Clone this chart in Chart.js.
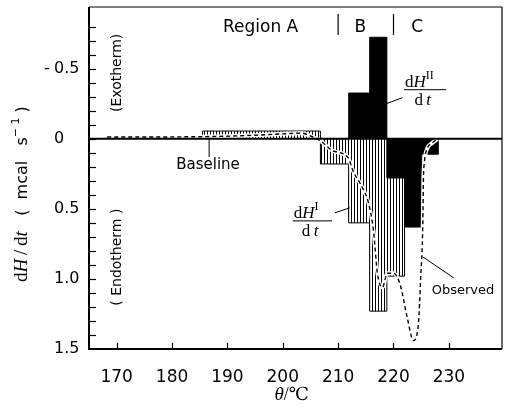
<!DOCTYPE html>
<html>
<head>
<meta charset="utf-8">
<script src="https://cdn.jsdelivr.net/npm/chart.js@4.4.0/dist/chart.umd.min.js"></script>
<style>
  html, body { margin: 0; padding: 0; background: #fff; }
  #wrap { width: 508px; height: 408px; }
</style>
</head>
<body>
<div id="wrap"><canvas id="chart"></canvas></div>
<script>
// bin edges (deg C) and heights (mcal/s, positive = endotherm, drawn downwards)
const binEdgesI  = [168.3, 185.5, 206.8, 211.9, 215.7, 218.8, 222.0];
const dHI        = [-0.015, -0.055, 0.18, 0.60, 1.23, 0.98];
const binEdgesII = [211.9, 215.7, 218.8, 222.0, 225.1, 228.1];
const dHII       = [-0.326, -0.724, 0.28, 0.63, 0.11];

// observed DSC trace
const obsT = [168.3, 185.5, 195.0, 200.0, 203.5, 205.0, 206.8, 209.0, 211.8, 212.7, 214.4, 215.5,
              216.4, 217.1, 218.0, 218.9, 220.0, 221.2, 222.5, 223.6, 224.5, 224.9, 225.3, 225.4,
              225.6, 226.1, 227.0, 228.0];
const obsV = [-0.012, -0.015, -0.025, -0.035, -0.04, -0.02, 0.015, 0.085, 0.135, 0.23, 0.35, 0.46,
              0.66, 0.96, 1.06, 0.96, 0.96, 1.04, 1.28, 1.44, 1.32, 1.0, 0.6, 0.3,
              0.16, 0.07, 0.03, 0.0];

const xTicks  = [170, 180, 190, 200, 210, 220, 230];
const yTicks  = [-0.5, 0, 0.5, 1.0, 1.5];
const yLabels = ['-0.5', '0', '0.5', '1.0', '1.5'];

const SANS = '"DejaVu Sans", sans-serif';
const SERIF = '"Liberation Serif", "DejaVu Serif", serif';

function histo(edges, vals) {
    const pts = [{ x: edges[0], y: 0 }];
    vals.forEach((v, i) => pts.push({ x: edges[i], y: v }));
    pts.push({ x: edges[edges.length - 1], y: 0 });
    return pts;
}

function hatch() {
    const c = document.createElement('canvas');
    c.width = 3; c.height = 4;
    const g = c.getContext('2d');
    g.fillStyle = '#fff'; g.fillRect(0, 0, 3, 4);
    g.fillStyle = '#000'; g.fillRect(0, 0, 1, 4);
    return g.createPattern(c, 'repeat');
}

const obsPts = obsT.map((t, i) => ({ x: t, y: obsV[i] }));

function line(ctx, x1, y1, x2, y2) {
    ctx.beginPath(); ctx.moveTo(x1, y1); ctx.lineTo(x2, y2); ctx.stroke();
}

// draw a run of text pieces with their own fonts, left to right from (0,0)
function rich(ctx, parts) {
    let cx = 0;
    parts.forEach(p => {
        ctx.font = p.f;
        ctx.fillText(p.t, cx, p.dy || 0);
        cx += ctx.measureText(p.t).width;
    });
    return cx;
}

function frac(ctx, left, right, ly, sup) {
    ctx.textAlign = 'left';
    ctx.textBaseline = 'alphabetic';
    ctx.save();
    ctx.translate(left + 1, ly - 3);
    rich(ctx, [
        { t: 'd', f: '17px ' + SERIF },
        { t: 'H', f: 'italic 17px ' + SERIF },
        { t: sup, f: '12px ' + SERIF, dy: -8 }
    ]);
    ctx.restore();
    ctx.lineWidth = 1;
    line(ctx, left, ly, right, ly);
    ctx.save();
    ctx.font = '17px ' + SERIF;
    const w = ctx.measureText('d').width;
    ctx.font = 'italic 17px ' + SERIF;
    const w2 = ctx.measureText('t').width;
    ctx.translate((left + right) / 2 - 3 - (w + w2 + 2) / 2, ly + 15);
    rich(ctx, [
        { t: 'd', f: '17px ' + SERIF },
        { t: '\u2009t', f: 'italic 17px ' + SERIF }
    ]);
    ctx.restore();
}

const decor = {
    id: 'decor',
    afterDraw(chart) {
        const { ctx, chartArea: a, scales: { x, y } } = chart;
        const X = v => x.getPixelForValue(v);
        const Y = v => y.getPixelForValue(v);
        ctx.save();
        ctx.strokeStyle = '#000';
        ctx.fillStyle = '#000';

        // frame
        ctx.lineWidth = 1.2;
        line(ctx, a.left, a.top, a.right, a.top);
        line(ctx, a.right, a.top, a.right, a.bottom);
        ctx.lineWidth = 2;
        line(ctx, a.left, a.top, a.left, a.bottom + 1);
        line(ctx, a.left - 1, a.bottom, a.right, a.bottom);
        line(ctx, a.left, Y(0), a.right, Y(0));

        // inside ticks
        ctx.lineWidth = 1.2;
        for (let k = -8; k <= 14; k++) {
            const py = Math.round(Y(k / 10)) + 0.5;
            line(ctx, a.left, py, a.left + 7, py);
        }
        xTicks.forEach(v => line(ctx, Math.round(X(v)) + 0.5, a.bottom, Math.round(X(v)) + 0.5, a.bottom - 6));

        // y tick labels
        ctx.font = '16px ' + SANS;
        ctx.textBaseline = 'middle';
        ctx.textAlign = 'left';
        yTicks.forEach((v, i) => {
            let s = yLabels[i];
            if (s[0] === '-') {
                ctx.fillText('-', 44, Y(v));
                s = s.slice(1);
            }
            ctx.fillText(s, 54, Y(v));
        });

        // region marks
        ctx.lineWidth = 1.2;
        [210, 220].forEach(v => line(ctx, X(v), Y(-0.89), X(v), Y(-0.74)));
        ctx.font = '17px ' + SANS;
        ctx.textAlign = 'center';
        ctx.fillText('Region A', X(196), Y(-0.79));
        ctx.fillText('B', X(214), Y(-0.79));
        ctx.fillText('C', X(224.3), Y(-0.79));

        // baseline note
        ctx.lineWidth = 1;
        line(ctx, X(186.7), Y(0), X(186.7), Y(0.13));
        ctx.font = '15px ' + SANS;
        ctx.fillText('Baseline', X(186.5), Y(0.19));

        // observed note
        line(ctx, X(225.3), Y(0.843), X(230.9), Y(0.993));
        ctx.font = '13px ' + SANS;
        ctx.textAlign = 'left';
        ctx.fillText('Observed', X(226.9), Y(1.086));

        // exotherm / endotherm
        ctx.font = '14px ' + SANS;
        ctx.textAlign = 'center';
        [['(Exotherm)', -0.47], ['( Endotherm )', 0.845]].forEach(([t, v]) => {
            ctx.save();
            ctx.translate(X(170.1), Y(v));
            ctx.rotate(-Math.PI / 2);
            ctx.fillText(t, 0, 0);
            ctx.restore();
        });

        // dH/dt labels
        line(ctx, X(209.4), Y(0.529), X(212.1), Y(0.493));
        line(ctx, X(218.7), Y(-0.25), X(221.6), Y(-0.293));
        frac(ctx, X(201.8), X(208.9), Y(0.586), 'I');
        frac(ctx, X(221.9), X(229.5), Y(-0.35), 'II');

        // axis titles
        ctx.textAlign = 'left';
        ctx.textBaseline = 'alphabetic';
        ctx.save();
        ctx.translate(27, 282);
        ctx.rotate(-Math.PI / 2);
        rich(ctx, [
            { t: 'd', f: '19px ' + SERIF },
            { t: 'H', f: 'italic 19px ' + SERIF },
            { t: '\u2009/\u2009', f: '19px ' + SERIF },
            { t: 'd', f: '19px ' + SERIF },
            { t: 't', f: 'italic 19px ' + SERIF },
            { t: '   (  mcal   s', f: '16px ' + SANS },
            { t: '\u2212 1', f: '11px ' + SANS, dy: -8 },
            { t: ' )', f: '16px ' + SANS }
        ]);
        ctx.restore();

        ctx.save();
        ctx.translate(X(198.5), 400);
        rich(ctx, [
            { t: '\u03b8', f: 'italic 19px ' + SERIF },
            { t: '/\u2103', f: '18px ' + SERIF }
        ]);
        ctx.restore();
        ctx.restore();
    }
};

new Chart(document.getElementById('chart'), {
    type: 'line',
    data: {
        datasets: [
            {
                label: 'Observed',
                data: obsPts,
                borderColor: '#000',
                borderWidth: 1.4,
                borderDash: [4, 3],
                pointRadius: 0,
                fill: false,
                cubicInterpolationMode: 'monotone',
                order: 0
            },
            {
                label: 'Observed mask',
                data: obsPts,
                borderColor: '#fff',
                borderWidth: 4,
                pointRadius: 0,
                fill: false,
                cubicInterpolationMode: 'monotone',
                order: 1
            },
            {
                label: 'dHII/dt',
                data: histo(binEdgesII, dHII),
                stepped: true,
                fill: 'origin',
                backgroundColor: '#000',
                borderColor: '#000',
                borderWidth: 1,
                pointRadius: 0,
                order: 2
            },
            {
                label: 'dHI/dt',
                data: histo(binEdgesI, dHI),
                stepped: true,
                fill: 'origin',
                backgroundColor: hatch(),
                borderColor: '#000',
                borderWidth: 1,
                pointRadius: 0,
                order: 3
            }
        ]
    },
    options: {
        responsive: true,
        maintainAspectRatio: false,
        animation: false,
        layout: { padding: { left: 0, top: 7, right: 6, bottom: 0 } },
        plugins: {
            legend: { display: false },
            tooltip: { enabled: false }
        },
        scales: {
            x: {
                type: 'linear',
                min: 165,
                max: 239.6,
                grid: { display: false },
                border: { display: false },
                afterBuildTicks: s => { s.ticks = xTicks.map(v => ({ value: v })); },
                afterFit: s => { s.height = 59; },
                ticks: {
                    color: '#000',
                    padding: 10,
                    maxRotation: 0,
                    font: { family: SANS, size: 17 },
                    callback: v => String(v)
                }
            },
            y: {
                type: 'linear',
                reverse: true,
                min: -0.94,
                max: 1.5,
                grid: { display: false },
                border: { display: false },
                ticks: { display: false },
                afterBuildTicks: s => { s.ticks = yTicks.map(v => ({ value: v })); },
                afterFit: s => { s.width = 89; }
            }
        }
    },
    plugins: [decor]
});
</script>
</body>
</html>
